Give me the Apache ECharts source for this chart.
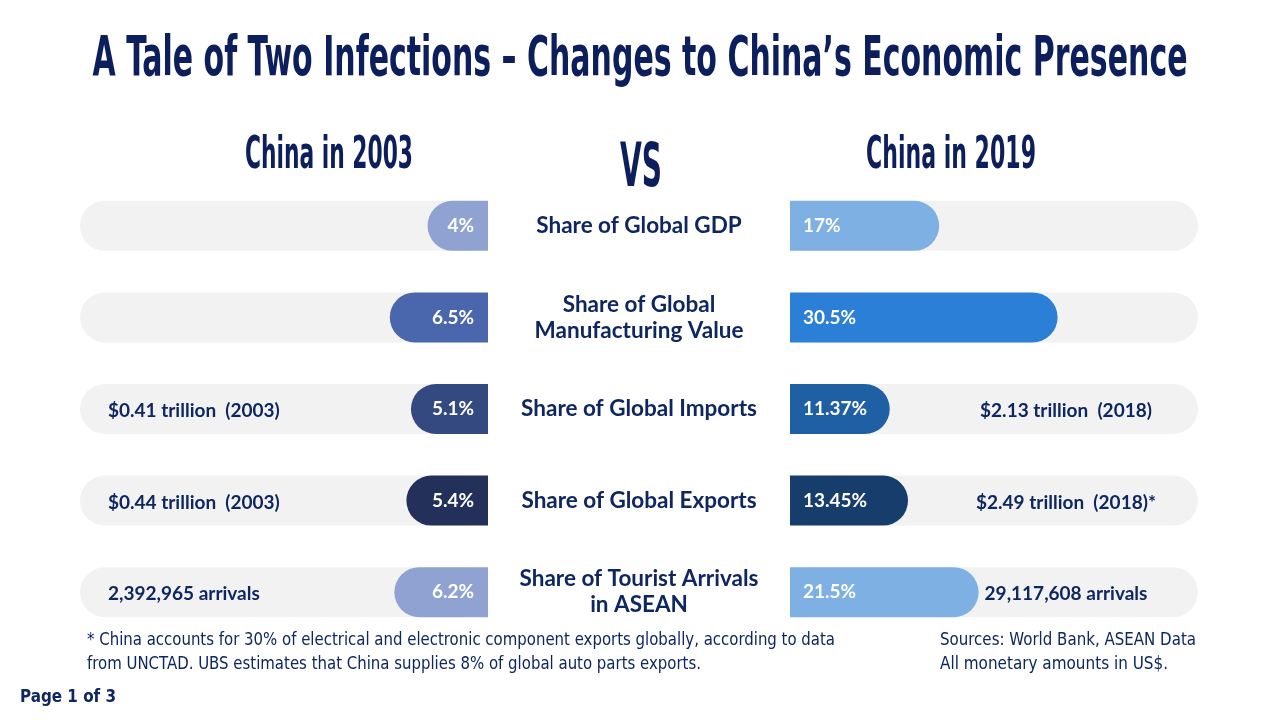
<!DOCTYPE html>
<html>
<head>
<meta charset="utf-8">
<script src="https://cdn.jsdelivr.net/npm/echarts@6/dist/echarts.min.js"></script>
<style>
html,body{margin:0;padding:0;background:#fff;}
#chart{width:1280px;height:720px;}
</style>
</head>
<body>
<div id="chart"></div>
<script>
// ---- data ----
const categories = ['Share of Global GDP', 'Share of Global\nManufacturing Value', 'Share of Global Imports', 'Share of Global Exports', 'Share of Tourist Arrivals\nin ASEAN'];
const share2003 = [4, 6.5, 5.1, 5.4, 6.2];
const share2019 = [17, 30.5, 11.37, 13.45, 21.5];
const notes2003 = ['', '', '$0.41 trillion  (2003)', '$0.44 trillion  (2003)', '2,392,965 arrivals'];
const notes2019 = ['', '', '$2.13 trillion  (2018)', '$2.49 trillion  (2018)*', '29,117,608 arrivals'];

// ---- styles ----
const colors2003 = ['#8fa2d2', '#4a67ad', '#34497f', '#23305a', '#8fa2d2'];
const colors2019 = ['#7eb0e4', '#2b7fd6', '#1f5fa3', '#173d6d', '#7eb0e4'];
const NAVY = '#0e2760';
const TITLE = '#0c1f5c';
const MAX_L = 27, MAX_R = 46.5;
const BODY_FONT = 'Lato, "Open Sans", sans-serif';

const ctx = document.createElement('canvas').getContext('2d');
function fitScale(text, font, target) {
  ctx.font = font;
  return target / ctx.measureText(text).width;
}
function fitText(text, font, target, x, y, align, color, vAlign) {
  const s = fitScale(text, font, target);
  return {
    type: 'text', x: x, y: y, scaleX: s, silent: true,
    style: { text: text, font: font, fill: color, align: align || 'left', verticalAlign: vAlign || 'middle' }
  };
}

const condensedBold = (size) => 'bold ' + size + 'px "Liberation Sans Narrow", "DejaVu Sans Condensed", sans-serif';
const narrow = (size) => size + 'px "Liberation Sans Narrow", "DejaVu Sans Condensed", sans-serif';

const chart = echarts.init(document.getElementById('chart'));

const gridTop = 180, gridBottom = 82;

function noteData(notes, max) {
  const out = [];
  notes.forEach((n, i) => { if (n) out.push({ value: [max, i], note: n }); });
  return out;
}

const noteLabel = { show: true, color: NAVY, opacity: 1,
  fontFamily: BODY_FONT, fontWeight: 'bold', fontSize: 19,
  formatter: (p) => p.data.note };

const option = {
  backgroundColor: '#ffffff',
  animation: false,
  grid: [
    { left: 80, width: 408, top: gridTop, bottom: gridBottom },
    { left: 790, width: 408, top: gridTop, bottom: gridBottom }
  ],
  xAxis: [
    { gridIndex: 0, type: 'value', min: 0, max: MAX_L, inverse: true, show: false },
    { gridIndex: 1, type: 'value', min: 0, max: MAX_R, show: false }
  ],
  yAxis: [
    { gridIndex: 0, type: 'category', data: categories, inverse: true, show: false },
    { gridIndex: 1, type: 'category', data: categories, inverse: true,
      axisLine: { show: false }, axisTick: { show: false }, splitLine: { show: false },
      axisLabel: { show: true, margin: 151, align: 'center', color: NAVY,
        fontFamily: BODY_FONT, fontWeight: 'bold', fontSize: 22.5, lineHeight: 26 } }
  ],
  series: [
    {
      type: 'bar', xAxisIndex: 0, yAxisIndex: 0, barWidth: 50,
      showBackground: true,
      backgroundStyle: { color: '#f2f2f2', borderRadius: 25 },
      data: share2003.map((v, i) => ({ value: v, itemStyle: { color: colors2003[i] } })),
      itemStyle: { borderRadius: [25, 0, 0, 25] },
      label: { show: true, position: 'insideRight', distance: 14, color: '#fff',
        fontFamily: BODY_FONT, fontWeight: 'bold', fontSize: 19,
        formatter: (p) => p.value + '%' }
    },
    {
      type: 'bar', xAxisIndex: 1, yAxisIndex: 1, barWidth: 50,
      showBackground: true,
      backgroundStyle: { color: '#f2f2f2', borderRadius: 25 },
      data: share2019.map((v, i) => ({ value: v, itemStyle: { color: colors2019[i] } })),
      itemStyle: { borderRadius: [0, 25, 25, 0] },
      label: { show: true, position: 'insideLeft', distance: 13, color: '#fff',
        fontFamily: BODY_FONT, fontWeight: 'bold', fontSize: 19,
        formatter: (p) => p.value + '%' }
    },
    {
      type: 'scatter', xAxisIndex: 0, yAxisIndex: 0, symbolSize: 0, silent: true,
      itemStyle: { opacity: 1 },
      data: noteData(notes2003, MAX_L),
      label: Object.assign({ position: 'right', distance: 28, offset: [0, 2] }, noteLabel)
    },
    {
      type: 'scatter', xAxisIndex: 1, yAxisIndex: 1, symbolSize: 0, silent: true,
      itemStyle: { opacity: 1 },
      data: noteData(notes2019, MAX_R),
      label: Object.assign({ position: 'inside', offset: [-132, 2] }, noteLabel)
    }
  ],
  graphic: [
    fitText('A Tale of Two Infections \u2013 Changes to China\u2019s Economic Presence', condensedBold(56), 1095, 640, 60, 'center', TITLE),
    fitText('China in 2003', condensedBold(44), 168, 329, 157, 'center', TITLE),
    fitText('VS', condensedBold(60), 42, 641, 170, 'center', TITLE),
    fitText('China in 2019', condensedBold(44), 170, 951, 157, 'center', TITLE),
    fitText('* China accounts for 30% of electrical and electronic component exports globally, according to data', narrow(17), 748, 87, 641, 'left', NAVY),
    fitText('from UNCTAD. UBS estimates that China supplies 8% of global auto parts exports.', narrow(17), 614, 87, 665, 'left', NAVY),
    fitText('Sources: World Bank, ASEAN Data', narrow(17), 256, 940, 641, 'left', NAVY),
    fitText('All monetary amounts in US$.', narrow(17), 228, 940, 665, 'left', NAVY),
    fitText('Page 1 of 3', condensedBold(17), 96, 20, 698, 'left', NAVY)
  ]
};
chart.setOption(option);
</script>
</body>
</html>
